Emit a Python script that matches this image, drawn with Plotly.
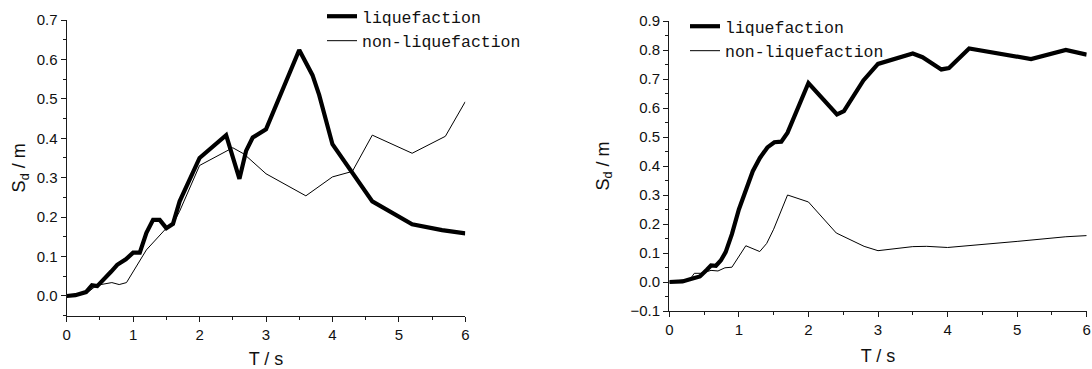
import plotly.graph_objects as go

W, H = 1092, 369

# ---- data: left panel ----
left_T_liq = [0, 0.13, 0.29, 0.38, 0.46, 0.58, 0.67, 0.76, 0.89, 1.0, 1.1, 1.2, 1.3, 1.4, 1.5, 1.6, 1.7,
              2.0, 2.4, 2.6, 2.7, 2.8, 3.0, 3.5, 3.7, 3.8, 4.0, 4.6, 5.2, 5.65, 6.0]
left_liq = [0, 0.002, 0.01, 0.027, 0.025, 0.045, 0.062, 0.079, 0.093, 0.11, 0.11, 0.16, 0.193, 0.193, 0.172,
            0.183, 0.24, 0.35, 0.408, 0.297, 0.368, 0.402, 0.423, 0.624, 0.56, 0.51, 0.385, 0.24, 0.182,
            0.167, 0.159]
left_T_non = [0, 0.31, 0.45, 0.55, 0.68, 0.79, 0.9, 1.2, 1.33, 1.5, 1.6, 1.7, 2.0, 2.5, 2.67, 3.0, 3.6,
              3.8, 4.0, 4.3, 4.6, 5.2, 5.7, 6.0]
left_non = [0, 0.008, 0.027, 0.030, 0.034, 0.029, 0.034, 0.117, 0.142, 0.172, 0.183, 0.215, 0.331, 0.376,
            0.36, 0.31, 0.254, 0.278, 0.302, 0.316, 0.408, 0.362, 0.405, 0.493]

# ---- data: right panel ----
right_T_liq = [0, 0.19, 0.31, 0.44, 0.54, 0.6, 0.67, 0.74, 0.81, 0.9, 1.0, 1.1, 1.2, 1.3, 1.41, 1.51, 1.61,
               1.7, 2.0, 2.41, 2.51, 2.79, 3.0, 3.5, 3.64, 3.91, 4.02, 4.31, 5.2, 5.7, 6.0]
right_liq = [0, 0.002, 0.01, 0.019, 0.042, 0.057, 0.056, 0.074, 0.103, 0.165, 0.25, 0.313, 0.382, 0.427,
             0.464, 0.482, 0.484, 0.515, 0.686, 0.578, 0.589, 0.695, 0.752, 0.788, 0.775, 0.733, 0.738,
             0.805, 0.769, 0.80, 0.784]
right_T_non = [0, 0.3, 0.36, 0.45, 0.6, 0.7, 0.8, 0.9, 1.1, 1.3, 1.4, 1.5, 1.7, 2.0, 2.4, 2.8, 3.0, 3.5,
               3.7, 4.0, 5.0, 5.7, 6.0]
right_non = [0, 0.01, 0.03, 0.03, 0.04, 0.038, 0.049, 0.051, 0.125, 0.105, 0.133, 0.182, 0.30, 0.276,
             0.169, 0.123, 0.108, 0.122, 0.123, 0.119, 0.14, 0.156, 0.16]

series_names = ["liquefaction", "non-liquefaction"]
x_title = "T / s"
y_title = "S<sub>d</sub> / m"

AX = "#1a1a1a"
tick_font = dict(family="Liberation Sans, Arial, sans-serif", size=15, color="#111")
title_font = dict(family="Liberation Sans, Arial, sans-serif", size=18, color="#111")
leg_font = dict(family="Liberation Mono, DejaVu Sans Mono, monospace", size=16.5, color="#111")

fig = go.Figure()
fig.add_trace(go.Scatter(x=left_T_liq, y=left_liq, mode="lines", name=series_names[0],
                         line=dict(color="black", width=4.2), xaxis="x", yaxis="y", legend="legend"))
fig.add_trace(go.Scatter(x=left_T_non, y=left_non, mode="lines", name=series_names[1],
                         line=dict(color="black", width=1), xaxis="x", yaxis="y", legend="legend"))
fig.add_trace(go.Scatter(x=right_T_liq, y=right_liq, mode="lines", name=series_names[0],
                         line=dict(color="black", width=4.2), xaxis="x2", yaxis="y2", legend="legend2"))
fig.add_trace(go.Scatter(x=right_T_non, y=right_non, mode="lines", name=series_names[1],
                         line=dict(color="black", width=1), xaxis="x2", yaxis="y2", legend="legend2"))


def xax(domain, anchor, standoff):
    return dict(domain=domain, anchor=anchor, range=[0, 6], tickmode="linear", tick0=0, dtick=1,
                ticks="outside", ticklen=5, tickwidth=1.3, tickcolor=AX, showline=True, linecolor=AX,
                linewidth=1.3, showgrid=False, zeroline=False, tickfont=tick_font,
                title=dict(text=x_title, font=title_font, standoff=standoff),
                minor=dict(dtick=0.5, tick0=0, ticks="outside", ticklen=3, tickwidth=1.3, tickcolor=AX))


def yax(domain, anchor, rng, standoff):
    return dict(domain=domain, anchor=anchor, range=rng, tickmode="linear", tick0=0, dtick=0.1,
                tickformat=".1f", ticks="outside", ticklen=5, tickwidth=1.3, tickcolor=AX, showline=True,
                linecolor=AX, linewidth=1.3, showgrid=False, zeroline=False, tickfont=tick_font,
                title=dict(text=y_title, font=title_font, standoff=standoff),
                minor=dict(dtick=0.05, tick0=0, ticks="outside", ticklen=3, tickwidth=1.3, tickcolor=AX))


fig.update_layout(
    width=W, height=H, margin=dict(l=0, r=0, t=0, b=0, autoexpand=False),
    paper_bgcolor="white", plot_bgcolor="white",
    xaxis=xax([66.7 / W, 465.3 / W], "y", 18),
    yaxis=yax([(H - 315.7) / H, (H - 20) / H], "x", [-0.05, 0.7], 6),
    xaxis2=xax([669.3 / W, 1086.7 / W], "y2", 12),
    yaxis2=yax([(H - 311) / H, (H - 21) / H], "x2", [-0.1, 0.9], 16),
    legend=dict(x=322 / W, y=1 + 1 / H, xanchor="left", yanchor="top", bgcolor="rgba(0,0,0,0)",
                font=leg_font, tracegroupgap=0, itemwidth=30),
    legend2=dict(x=685 / W, y=1 - 9 / H, xanchor="left", yanchor="top", bgcolor="rgba(0,0,0,0)",
                 font=leg_font, tracegroupgap=0, itemwidth=30),
)

fig.write_html("out.html")
